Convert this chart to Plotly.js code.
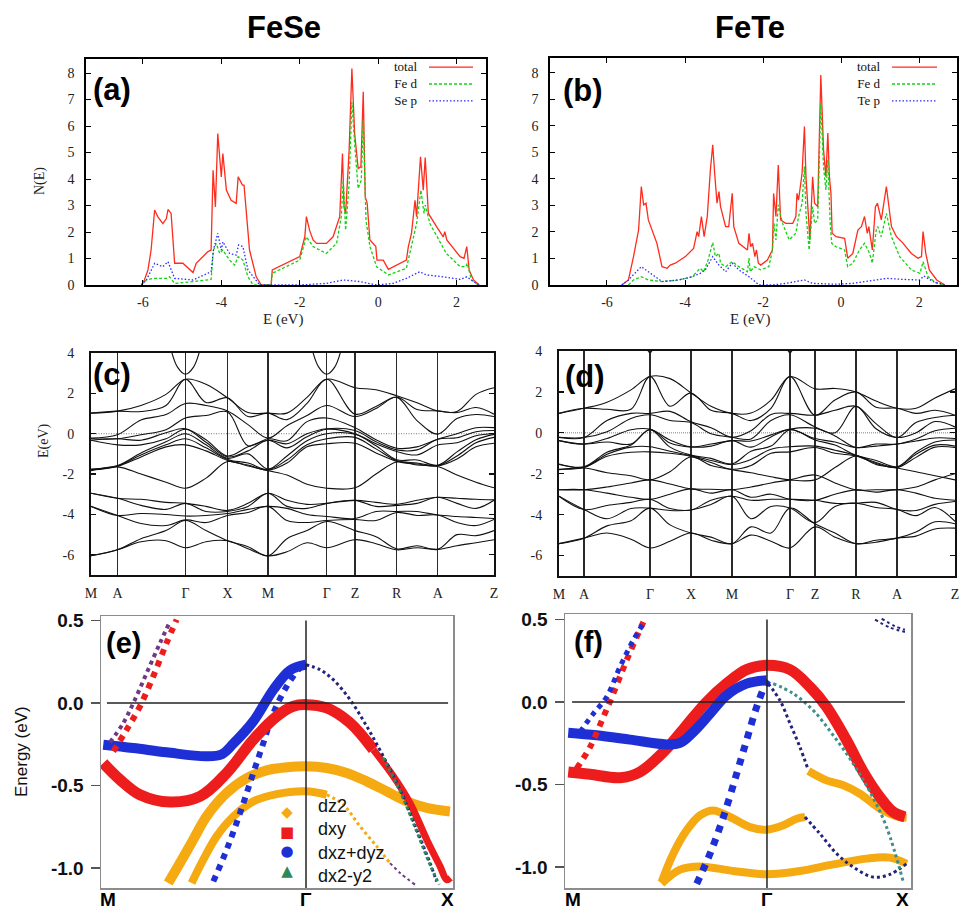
<!DOCTYPE html>
<html><head><meta charset="utf-8">
<script src="https://cdn.plot.ly/plotly-3.0.1.min.js"></script>
<style>html,body{margin:0;padding:0;background:#fff}#chart{width:962px;height:913px}</style>
</head><body><div id="chart"></div>
<script>
// ---------------- DOS (a) FeSe ----------------
const aTotE = [-6.04,-5.96,-5.87,-5.79,-5.70,-5.62,-5.49,-5.40,-5.36,-5.28,-5.19,-4.98,-4.72,-4.64,-4.34,-4.26,-4.21,-4.15,-4.09,-4.00,-3.96,-3.87,-3.75,-3.62,-3.57,-3.46,-3.42,-3.28,-3.11,-2.98,-2.73,-2.70,-2.00,-1.87,-1.83,-1.75,-1.66,-1.57,-1.32,-1.15,-0.98,-0.91,-0.87,-0.83,-0.74,-0.67,-0.60,-0.51,-0.44,-0.38,-0.33,-0.28,-0.21,-0.13,-0.06,-0.03,0.13,0.26,0.72,0.77,0.85,0.94,0.98,1.08,1.15,1.20,1.28,1.49,1.66,1.70,1.75,2.09,2.19,2.26,2.32,2.43,2.58];
const aTotN = [0,0.19,0.57,1.32,2.83,2.58,2.32,2.51,2.85,2.70,0.82,0.82,0.47,0.82,1.26,1.32,4.33,2.95,5.72,4.08,4.96,3.58,3.20,3.08,4.08,3.77,3.77,1.32,0.31,0,0,0.57,1.07,1.82,2.58,2.07,1.70,1.57,1.57,1.82,2.58,4.96,2.95,2.70,5.09,8.17,5.72,4.40,4.46,7.29,3.33,3.08,1.70,1.57,1.45,0.94,0.94,0.59,0.94,1.45,1.95,3.20,2.58,4.84,3.58,4.81,2.70,2.20,1.82,2.01,1.70,1.07,1.01,1.45,0.57,0.19,0];
const aFeE = [-6.04,-5.91,-5.74,-5.40,-5.32,-5.19,-4.72,-4.26,-4.20,-4.13,-4.04,-3.96,-3.79,-3.66,-3.57,-3.45,-3.32,-3.19,-2.73,-2.70,-2.00,-1.83,-1.66,-1.32,-1.06,-0.94,-0.89,-0.83,-0.74,-0.67,-0.60,-0.51,-0.43,-0.38,-0.31,-0.21,-0.04,0.09,0.26,0.72,0.89,0.98,1.09,1.17,1.20,1.32,1.74,2.09,2.24,2.27,2.38,2.55];
const aFeN = [0,0.19,0.25,0.25,0.31,0.06,0.13,0.21,1.32,1.57,1.19,1.32,0.94,0.75,1.07,0.94,0.31,0,0,0.44,0.94,1.82,1.45,1.19,1.57,2.58,3.96,2.07,3.83,6.91,5.34,3.64,3.96,6.22,2.45,1.45,0.69,0.57,0.38,0.63,1.70,2.32,3.58,2.70,3.02,2.32,1.19,0.69,0.69,0.82,0.19,0];
const aSeE = [-6.04,-5.91,-5.70,-5.49,-5.36,-5.19,-4.72,-4.26,-4.20,-4.09,-4.00,-3.96,-3.79,-3.62,-3.56,-3.45,-3.32,-3.11,-3.02,-2.00,-1.32,-0.89,-0.47,-0.04,0.38,0.72,1.06,1.23,1.66,2.09,2.26,2.43,2.58];
const aSeN = [0,0.19,0.82,0.69,0.88,0.25,0.19,0.50,1.32,1.95,1.32,1.63,1.19,1.13,1.51,1.45,0.57,0.19,0,0,0.06,0.19,0.13,0,0.06,0.25,0.50,0.38,0.31,0.21,0.31,0.13,0];

// ---------------- DOS (b) FeTe ----------------
const bTotE = [-5.62,-5.45,-5.32,-5.19,-5.12,-5.06,-5.00,-4.94,-4.72,-4.59,-4.46,-4.38,-4.25,-3.99,-3.78,-3.69,-3.65,-3.58,-3.51,-3.43,-3.35,-3.29,-3.24,-3.18,-3.13,-3.09,-2.96,-2.88,-2.79,-2.75,-2.62,-2.40,-2.36,-2.32,-2.27,-2.21,-2.17,-2.12,-2.06,-1.89,-1.76,-1.73,-1.67,-1.61,-1.55,-1.42,-1.24,-1.16,-1.13,-1.09,-1.00,-0.94,-0.90,-0.80,-0.73,-0.68,-0.60,-0.52,-0.45,-0.39,-0.34,-0.30,-0.26,-0.23,-0.13,0.09,0.17,0.30,0.43,0.52,0.60,0.67,0.71,0.80,0.88,0.93,1.03,1.16,1.29,1.42,1.59,1.80,1.97,2.06,2.10,2.17,2.26,2.45,2.66];
const bTotN = [0,0.19,1.07,2.07,3.71,3.02,3.08,2.45,1.57,0.69,0.63,0.75,0.82,1.07,1.38,2.01,1.82,2.58,1.82,2.58,4.33,5.28,4.21,3.08,3.52,2.95,2.20,2.20,3.45,2.20,1.57,1.32,1.95,1.44,1.57,1.07,1.32,0.82,0.75,0.94,1.32,3.45,2.58,4.52,2.45,2.32,2.32,2.58,3.45,3.20,4.21,5.97,4.08,1.70,4.08,3.08,2.95,7.91,5.09,4.08,5.72,4.08,3.45,1.95,1.82,1.76,1.01,1.19,2.07,2.20,2.58,1.95,2.20,1.32,2.95,3.08,2.45,3.71,2.20,1.82,1.57,1.19,1.01,1.07,2.01,1.19,0.57,0.19,0];
const bFeE = [-5.45,-5.32,-5.12,-4.94,-4.59,-4.16,-3.82,-3.61,-3.52,-3.41,-3.29,-3.22,-3.13,-3.09,-2.96,-2.79,-2.62,-2.40,-2.36,-2.33,-2.23,-2.06,-1.85,-1.76,-1.72,-1.67,-1.61,-1.50,-1.33,-1.16,-1.09,-1.00,-0.94,-0.90,-0.82,-0.73,-0.68,-0.60,-0.52,-0.45,-0.39,-0.34,-0.28,-0.24,-0.13,0.09,0.17,0.30,0.47,0.60,0.73,0.80,0.90,0.94,1.03,1.16,1.29,1.50,1.80,2.02,2.10,2.23,2.45,2.62];
const bFeN = [0,0.19,0.31,0.19,0.13,0.19,0.31,0.63,0.50,0.94,1.60,1.07,1.19,0.82,0.69,0.88,0.69,0.50,1.01,0.50,0.69,0.57,0.69,1.32,2.32,1.70,3.02,2.32,1.70,1.95,2.58,3.08,4.46,2.70,1.32,2.95,2.32,2.45,6.85,4.46,3.58,4.71,2.32,1.57,1.44,1.32,0.69,0.82,1.32,1.57,1.19,0.82,2.07,2.20,1.82,2.70,1.82,1.07,0.57,0.44,0.88,0.31,0.06,0];
const bTeE = [-5.62,-5.45,-5.12,-4.94,-4.59,-4.16,-3.82,-3.61,-3.48,-3.29,-3.13,-2.96,-2.79,-2.62,-2.36,-2.10,-1.76,-1.42,-0.94,-0.73,-0.13,0.30,0.73,1.16,1.59,2.02,2.12,2.36,2.66];
const bTeN = [0,0.19,0.69,0.50,0.13,0.19,0.31,0.44,0.57,1.07,0.75,0.50,0.82,0.57,0.31,0,0,0.06,0.19,0.06,0.03,0.06,0.16,0.25,0.21,0.19,0.34,0.13,0];

// ---------------- Band structure (c) FeSe ----------------
const kSymC = [0,26.5,94.5,136.5,177,235.7,264,305.7,346.7,403];
const kLabels = ['M','A','Γ','X','M','Γ','Z','R','A','Z'];
const kGridC = [0,26.5,50,75,94.5,115,136.5,157,177,196,216,235.7,264,285,305.7,326,346.7,366,385,403];
const feseDcols = [
 [1.02,1.02,-0.22,-0.25,-0.32,-0.32,-1.75,-1.78,-1.80,-1.83],
 [1.12,1.12,-0.05,-0.25,-0.25,-0.55,-1.58,-1.60,-1.62,-1.64],
 [1.40,1.10,0.68,-0.05,-0.32,-0.55,-0.95,-1.05,-1.15,-2.00],
 [1.95,1.40,0.95,0.20,0.05,-0.25,-0.40,-0.55,-0.65,-2.40],
 [2.70,2.70,1.50,0.78,0.25,0.22,0.00,-0.25,-0.55,-2.70],
 [2.45,1.55,1.40,0.90,-0.30,-0.42,-0.55,-0.70,-0.85,-2.20],
 [1.78,1.78,1.13,1.08,-1.10,-1.15,-1.22,-1.28,-1.32,-1.38],
 [1.05,0.85,0.45,-0.60,-0.65,-0.85,-1.00,-1.45,-1.55,-1.60],
 [1.02,1.02,-0.22,-0.25,-0.32,-0.32,-1.75,-1.78,-1.80,-1.83],
 [1.02,0.70,0.40,-0.35,-0.50,-0.70,-1.10,-1.30,-1.45,-2.05],
 [1.80,1.50,0.90,0.60,0.00,-0.15,-0.35,-0.55,-0.65,-2.50],
 [2.70,2.70,1.40,0.78,0.25,0.22,0.00,-0.25,-0.50,-2.70],
 [2.28,0.97,0.85,0.30,0.16,0.00,-0.03,-0.18,-0.47,-2.68],
 [2.18,1.35,1.25,-0.30,-0.40,-0.50,-0.60,-0.75,-0.95,-2.00],
 [1.88,1.82,1.80,-0.72,-0.80,-0.88,-1.29,-1.33,-1.37,-1.40],
 [1.53,1.20,0.65,-0.65,-0.80,-1.05,-1.30,-1.45,-1.50,-1.55],
 [1.13,1.13,-0.02,-0.27,-0.27,-0.56,-1.56,-1.58,-1.60,-1.62],
 [1.10,1.05,0.75,0.00,-0.20,-0.45,-0.90,-1.10,-1.25,-2.05],
 [1.95,1.30,0.95,0.30,0.10,-0.10,-0.30,-0.45,-0.65,-2.40],
 [2.28,0.97,0.85,0.30,0.16,0.00,-0.03,-0.18,-0.47,-2.68]];
const fesePcols = [
 [-2.95,-2.95,-3.60,-3.60,-6.05,-6.05],
 [-3.20,-3.20,-4.05,-4.05,-5.75,-5.75],
 [-3.25,-3.55,-3.95,-4.45,-5.20,-5.35],
 [-3.40,-3.75,-4.00,-4.55,-4.80,-5.30],
 [-3.45,-3.45,-4.08,-4.27,-4.30,-5.65],
 [-3.60,-3.85,-4.05,-4.40,-4.80,-5.35],
 [-3.80,-3.85,-3.95,-4.05,-5.30,-5.30],
 [-3.45,-3.60,-3.75,-3.90,-5.60,-5.70],
 [-2.95,-2.95,-3.60,-3.60,-6.05,-6.05],
 [-3.30,-3.60,-3.70,-4.30,-5.20,-5.85],
 [-3.50,-3.70,-4.00,-4.40,-4.80,-5.40],
 [-3.45,-3.45,-4.10,-4.30,-4.35,-5.65],
 [-3.30,-3.30,-4.20,-4.25,-4.80,-5.25],
 [-3.40,-3.60,-3.85,-4.30,-5.10,-5.45],
 [-3.50,-3.55,-3.85,-3.90,-5.70,-5.75],
 [-3.30,-3.45,-3.85,-4.05,-5.55,-5.65],
 [-3.15,-3.15,-4.03,-4.03,-5.73,-5.73],
 [-3.20,-3.45,-4.10,-4.40,-5.00,-5.55],
 [-3.25,-3.70,-4.15,-4.55,-5.05,-5.40],
 [-3.28,-3.30,-4.20,-4.25,-4.80,-5.25]];
const feseParaDk = [-16,-8,0,8,16];
const feseParaE = [4.45,3.30,2.95,3.30,4.45];

// ---------------- Band structure (d) FeTe ----------------
const kSymD = [0,25,91,132,173,231,256,297,338,396];
const kGridD = [0,25,48,72,91,111,132,152,173,192,212,231,256,276,297,317,338,357,376,396];
const feteDcols = [
 [0.95,0.95,-0.22,-0.22,-0.38,-0.38,-1.52,-1.55,-1.78,-1.80],
 [1.20,1.20,-0.23,-0.23,-0.55,-0.55,-1.66,-1.68,-1.70,-1.72],
 [1.50,1.15,0.60,0.05,-0.28,-0.45,-0.95,-1.05,-1.15,-1.95],
 [2.10,1.15,0.95,0.70,0.15,-0.55,-0.60,-0.70,-0.95,-2.10],
 [2.75,2.75,0.95,0.88,0.18,0.16,0.15,-0.68,-0.93,-2.30],
 [2.65,1.30,1.05,0.60,-0.35,-0.50,-0.70,-0.90,-1.00,-1.90],
 [1.95,1.95,0.54,0.50,-0.68,-0.70,-1.09,-1.12,-1.15,-1.17],
 [1.30,1.10,0.25,-0.05,-0.55,-0.65,-1.25,-1.35,-1.45,-1.60],
 [0.95,0.95,-0.22,-0.22,-0.38,-0.38,-1.52,-1.55,-1.78,-1.80],
 [0.97,0.60,0.10,-0.30,-0.40,-0.70,-0.90,-1.30,-1.60,-1.95],
 [1.60,1.20,0.90,0.60,-0.10,-0.20,-0.65,-0.80,-1.00,-2.15],
 [2.75,2.75,0.95,0.88,0.18,0.16,0.15,-0.68,-0.93,-2.30],
 [2.15,0.86,0.86,0.29,0.22,-0.28,-0.35,-0.65,-0.72,-2.30],
 [2.17,1.60,1.10,0.00,-0.15,-0.45,-0.60,-0.85,-1.00,-1.70],
 [2.00,2.00,1.30,1.30,-0.72,-0.72,-1.10,-1.10,-1.13,-1.13],
 [1.55,1.25,0.45,0.20,-0.55,-0.65,-1.35,-1.45,-1.50,-1.55],
 [1.20,1.20,-0.23,-0.23,-0.55,-0.55,-1.66,-1.68,-1.70,-1.72],
 [1.20,0.95,0.50,0.00,-0.30,-0.40,-0.95,-1.05,-1.20,-1.90],
 [1.70,1.10,0.75,0.55,0.10,-0.25,-0.45,-0.60,-0.70,-2.10],
 [2.15,0.86,0.86,0.29,0.22,-0.28,-0.35,-0.65,-0.72,-2.30]];
const fetePcols = [
 [-2.78,-2.78,-3.10,-3.10,-5.42,-5.42],
 [-2.78,-2.78,-3.75,-3.75,-5.15,-5.15],
 [-2.65,-2.95,-3.55,-4.20,-4.55,-4.90],
 [-2.45,-3.15,-3.40,-3.70,-4.30,-5.20],
 [-2.30,-3.25,-3.25,-3.68,-3.68,-5.63],
 [-2.50,-3.00,-3.70,-3.80,-4.50,-5.30],
 [-2.74,-2.74,-3.77,-3.77,-4.90,-4.90],
 [-2.76,-2.95,-3.30,-3.50,-5.10,-5.25],
 [-2.78,-2.78,-3.10,-3.10,-5.42,-5.42],
 [-2.65,-3.15,-3.30,-4.20,-4.60,-5.00],
 [-2.45,-3.00,-3.25,-3.60,-4.90,-5.30],
 [-2.30,-3.25,-3.25,-3.68,-3.68,-5.63],
 [-2.06,-3.30,-3.30,-4.39,-4.45,-4.60],
 [-2.45,-3.00,-3.45,-3.60,-4.90,-5.10],
 [-2.79,-2.79,-3.44,-3.44,-5.42,-5.42],
 [-2.78,-2.90,-3.40,-3.65,-5.25,-5.35],
 [-2.78,-2.78,-3.75,-3.75,-5.15,-5.15],
 [-2.65,-2.95,-3.80,-4.05,-4.85,-5.05],
 [-2.30,-3.20,-3.50,-3.65,-4.35,-4.70],
 [-2.00,-3.30,-3.36,-4.33,-4.45,-4.66]];
const feteParaDk = [-5,0,5];
const feteParaE = [4.30,3.92,4.30];

// ---------------- Fat bands (e) FeSe ----------------
const eBlueThickK = [0.011,0.158,0.320,0.515,0.590,0.646,0.743,0.841,0.922,1.0];
const eBlueThickE = [-0.253,-0.273,-0.299,-0.323,-0.310,-0.246,-0.111,0.081,0.198,0.232];
const eRedThickK = [0.011,0.093,0.190,0.337,0.483,0.613,0.743,0.857,0.938,1.0,1.101,1.215,1.328];
const eRedThickE = [-0.364,-0.465,-0.556,-0.600,-0.566,-0.424,-0.222,-0.081,-0.020,-0.010,-0.030,-0.121,-0.283];
const eRedTailK = [1.328,1.426,1.507,1.589,1.654,1.686,1.705];
const eRedTailE = [-0.283,-0.444,-0.606,-0.828,-0.990,-1.071,-1.060];
const eRedSteepK = [0.060,0.125,0.190,0.255,0.320,0.369];
const eRedSteepE = [-0.293,-0.162,-0.020,0.162,0.364,0.505];
const ePurpleSteepK = [0.044,0.109,0.158,0.223,0.288,0.337];
const ePurpleSteepE = [-0.238,-0.121,0.0,0.182,0.364,0.495];
const eBlueSteepK = [0.548,0.613,0.678,0.743,0.792,0.841,0.906,0.971,1.0];
const eBlueSteepE = [-1.081,-0.889,-0.667,-0.424,-0.242,-0.061,0.101,0.212,0.232];
const eOrangeAK = [0.328,0.385,0.450,0.515,0.613,0.711,0.808,0.906,1.0,1.101,1.199,1.296,1.393,1.491,1.589,1.702];
const eOrangeAE = [-1.091,-0.970,-0.828,-0.687,-0.545,-0.455,-0.408,-0.390,-0.384,-0.394,-0.424,-0.475,-0.535,-0.596,-0.636,-0.657];
const eOrangeBK = [0.442,0.499,0.564,0.646,0.743,0.857,1.0,1.101];
const eOrangeBE = [-1.091,-0.949,-0.808,-0.687,-0.596,-0.552,-0.535,-0.556];
const eOrangeBTailK = [1.101,1.182,1.263,1.345,1.410];
const eOrangeBTailE = [-0.556,-0.616,-0.747,-0.869,-0.970];
const ePurpleTailK = [1.410,1.459,1.532];
const ePurpleTailE = [-0.970,-1.030,-1.101];
const eNavyK = [1.0,1.068,1.133,1.215,1.296,1.377,1.459,1.540,1.605,1.637];
const eNavyE = [0.232,0.202,0.141,0.020,-0.141,-0.323,-0.525,-0.768,-0.970,-1.081];
const eGreenK = [1.377,1.459,1.540,1.605,1.650];
const eGreenE = [-0.333,-0.535,-0.778,-0.980,-1.101];

// ---------------- Fat bands (f) FeTe ----------------
const fRedThickK = [0.016,0.124,0.272,0.371,0.503,0.602,0.701,0.800,0.899,0.998,1.114,1.213,1.295,1.394,1.477,1.559,1.625,1.683];
const fRedThickE = [-0.424,-0.438,-0.459,-0.424,-0.283,-0.141,0.0,0.111,0.196,0.222,0.196,0.091,-0.030,-0.232,-0.424,-0.576,-0.667,-0.697];
const fBlueThickK = [0.016,0.157,0.322,0.503,0.569,0.635,0.718,0.800,0.899,0.998];
const fBlueThickE = [-0.186,-0.202,-0.228,-0.257,-0.248,-0.182,-0.071,0.040,0.111,0.131];
const fRedSteepK = [0.057,0.124,0.190,0.239,0.305,0.388];
const fRedSteepE = [-0.404,-0.273,-0.091,0.051,0.253,0.485];
const fBlueSteepMK = [0.074,0.140,0.206,0.272,0.338,0.396];
const fBlueSteepME = [-0.182,-0.071,0.030,0.212,0.374,0.491];
const fBlueSteepGK = [0.652,0.718,0.784,0.850,0.899,0.949,0.990,1.006];
const fBlueSteepGE = [-1.101,-0.919,-0.697,-0.434,-0.232,-0.030,0.101,0.131];
const fOrangeWaveK = [0.478,0.536,0.602,0.668,0.734,0.817,0.916,0.998,1.081,1.147,1.188];
const fOrangeWaveE = [-1.091,-0.919,-0.778,-0.687,-0.657,-0.697,-0.758,-0.774,-0.747,-0.707,-0.697];
const fOrangeLowK = [0.478,0.569,0.668,0.833,0.998,1.163,1.328,1.493,1.609,1.691];
const fOrangeLowE = [-1.101,-1.016,-0.996,-1.024,-1.044,-1.024,-0.984,-0.949,-0.943,-0.980];
const fOrangeRightK = [1.205,1.295,1.378,1.460,1.559,1.642,1.691];
const fOrangeRightE = [-0.418,-0.475,-0.505,-0.556,-0.646,-0.693,-0.701];
const fNavyDropK = [1.188,1.262,1.345,1.427,1.526,1.609,1.691];
const fNavyDropE = [-0.697,-0.798,-0.919,-1.0,-1.061,-1.044,-0.980];
const fNavyGK = [1.006,1.064,1.114,1.163,1.205];
const fNavyGE = [0.111,0.010,-0.131,-0.273,-0.414];
const fTealK = [1.031,1.130,1.229,1.328,1.427,1.510,1.592,1.675];
const fTealE = [0.111,0.051,-0.051,-0.202,-0.374,-0.545,-0.758,-1.091];
const fArc1K = [1.535,1.609,1.683];
const fArc1E = [0.499,0.451,0.424];
const fArc2K = [1.568,1.634,1.683];
const fArc2E = [0.505,0.459,0.438];

const fatTickLabels = ['M','Γ','X'];
const legendNames = ['dz2','dxy','dxz+dyz','dx2-y2'];
const dosNamesA = ['total','Fe d','Se p'];
const dosNamesB = ['total','Fe d','Te p'];

// ---------------- helpers ----------------
const W = 962, H = 913;
const px = x => x / W;
const py = y => 1 - y / H;
const SERIF = 'Liberation Serif, Times New Roman, serif';
const SANS = 'Liberation Sans, Arial, sans-serif';
const C_ORANGE = '#f5aa12', C_RED = '#ee1d1d', C_BLUE = '#1f2fd6', C_NAVY = '#23237e', C_PURPLE = '#6d3a86', C_GREEN = '#2a8a5a', C_TEAL = '#3c8f8a';
const DOS_TOT = '#ff2b1c', DOS_FE = '#12d312', DOS_P = '#2a2aff';

function transpose(cols) {
  const rows = [];
  for (let i = 0; i < cols[0].length; i++) rows.push(cols.map(c => c[i]));
  return rows;
}

const traces = [];
function dosTrace(x, y, color, dash, xa, ya) {
  traces.push({x: x, y: y, xaxis: xa, yaxis: ya, mode: 'lines', showlegend: false,
    line: {color: color, width: 1.3, dash: dash}, hoverinfo: 'skip'});
}
dosTrace(aTotE, aTotN, DOS_TOT, 'solid', 'x', 'y');
dosTrace(aFeE, aFeN, DOS_FE, '3px,2px', 'x', 'y');
dosTrace(aSeE, aSeN, DOS_P, '1.5px,2px', 'x', 'y');
dosTrace(bTotE, bTotN, DOS_TOT, 'solid', 'x2', 'y2');
dosTrace(bFeE, bFeN, DOS_FE, '3px,2px', 'x2', 'y2');
dosTrace(bTeE, bTeN, DOS_P, '1.5px,2px', 'x2', 'y2');

function bandTraces(kGrid, dcols, pcols, xa, ya) {
  transpose(dcols).concat(transpose(pcols)).forEach(row => {
    traces.push({x: kGrid, y: row, xaxis: xa, yaxis: ya, mode: 'lines', showlegend: false,
      line: {color: '#111', width: 1.1, shape: 'spline', smoothing: 1.0}, hoverinfo: 'skip'});
  });
}
bandTraces(kGridC, feseDcols, fesePcols, 'x3', 'y3');
bandTraces(kGridD, feteDcols, fetePcols, 'x4', 'y4');
[kSymC[2], kSymC[5]].forEach(g => traces.push({x: feseParaDk.map(d => g + d), y: feseParaE, xaxis: 'x3', yaxis: 'y3',
  mode: 'lines', showlegend: false, line: {color: '#111', width: 1.1, shape: 'spline'}, hoverinfo: 'skip'}));
[kSymD[2], kSymD[5]].forEach(g => traces.push({x: feteParaDk.map(d => g + d), y: feteParaE, xaxis: 'x4', yaxis: 'y4',
  mode: 'lines', showlegend: false, line: {color: '#111', width: 1.1, shape: 'spline'}, hoverinfo: 'skip'}));

function fat(k, e, color, width, dash, xa, ya) {
  traces.push({x: k, y: e, xaxis: xa, yaxis: ya, mode: 'lines', showlegend: false,
    line: {color: color, width: width, dash: dash || 'solid', shape: 'spline', smoothing: 1.0}, hoverinfo: 'skip'});
}
// (e)
fat(eOrangeAK, eOrangeAE, C_ORANGE, 10, null, 'x5', 'y5');
fat(eOrangeBK, eOrangeBE, C_ORANGE, 8, null, 'x5', 'y5');
fat(eOrangeBTailK, eOrangeBTailE, C_ORANGE, 3, 'dot', 'x5', 'y5');
fat(ePurpleTailK, ePurpleTailE, C_PURPLE, 2, 'dot', 'x5', 'y5');
fat(eBlueSteepK, eBlueSteepE, C_BLUE, 6, 'dot', 'x5', 'y5');
fat(eBlueThickK, eBlueThickE, C_BLUE, 10, null, 'x5', 'y5');
fat(eRedThickK, eRedThickE, C_RED, 11, null, 'x5', 'y5');
fat(eRedTailK, eRedTailE, C_RED, 7, null, 'x5', 'y5');
fat(eRedSteepK, eRedSteepE, C_RED, 6, 'dot', 'x5', 'y5');
fat(ePurpleSteepK, ePurpleSteepE, C_PURPLE, 4, 'dot', 'x5', 'y5');
fat(eNavyK, eNavyE, C_NAVY, 3, 'dot', 'x5', 'y5');
fat(eGreenK, eGreenE, C_GREEN, 3, 'dot', 'x5', 'y5');
// (f)
fat(fOrangeWaveK, fOrangeWaveE, C_ORANGE, 8, null, 'x6', 'y6');
fat(fOrangeLowK, fOrangeLowE, C_ORANGE, 8, null, 'x6', 'y6');
fat(fOrangeRightK, fOrangeRightE, C_ORANGE, 8, null, 'x6', 'y6');
fat(fNavyDropK, fNavyDropE, C_NAVY, 3, 'dot', 'x6', 'y6');
fat(fBlueSteepGK, fBlueSteepGE, C_BLUE, 7, 'dot', 'x6', 'y6');
fat(fRedThickK, fRedThickE, C_RED, 11, null, 'x6', 'y6');
fat(fBlueThickK, fBlueThickE, C_BLUE, 10, null, 'x6', 'y6');
fat(fRedSteepK, fRedSteepE, C_RED, 6, 'dot', 'x6', 'y6');
fat(fBlueSteepMK, fBlueSteepME, C_BLUE, 5, 'dot', 'x6', 'y6');
fat(fNavyGK, fNavyGE, C_NAVY, 3, 'dot', 'x6', 'y6');
fat(fTealK, fTealE, C_TEAL, 3, 'dot', 'x6', 'y6');
fat(fArc1K, fArc1E, C_NAVY, 2, 'dot', 'x6', 'y6');
fat(fArc2K, fArc2E, C_NAVY, 2, 'dot', 'x6', 'y6');

// ---------------- axes ----------------
function dosX(dom, range) {
  return {domain: dom, range: range, tickvals: [-6,-4,-2,0,2], ticktext: ['-6','-4','-2','0','2'],
    ticks: 'inside', ticklen: 5, tickwidth: 1, tickcolor: '#000', showline: true, mirror: 'ticks', linecolor: '#000', linewidth: 1.6,
    showgrid: false, zeroline: false, tickfont: {family: SERIF, size: 14, color: '#222'}, ticklabelstandoff: 4};
}
function dosY(dom, range) {
  return {domain: dom, range: range, tickvals: [0,1,2,3,4,5,6,7,8], ticktext: ['0','1','2','3','4','5','6','7','8'],
    ticks: 'inside', ticklen: 5, tickwidth: 1, tickcolor: '#000', showline: true, mirror: 'ticks', linecolor: '#000', linewidth: 1.6,
    showgrid: false, zeroline: false, tickfont: {family: SERIF, size: 14, color: '#222'}, ticklabelstandoff: 7};
}
function bandX(dom, range, ksym) {
  return {domain: dom, range: range, tickvals: ksym, ticktext: kLabels, ticks: '', showgrid: true, gridcolor: '#2a2a2a', gridwidth: 1.3,
    showline: true, mirror: true, linecolor: '#111', linewidth: 2, zeroline: false,
    tickfont: {family: SERIF, size: 14, color: '#222'}, ticklabelstandoff: 4};
}
function bandY(dom) {
  return {domain: dom, range: [-7, 4], tickvals: [-6,-4,-2,0,2,4], ticktext: ['-6','-4','-2','0','2','4'],
    ticks: 'inside', ticklen: 5, tickwidth: 1.2, tickcolor: '#111', showline: true, mirror: 'ticks', linecolor: '#111', linewidth: 2,
    showgrid: false, zeroline: false, tickfont: {family: SERIF, size: 14, color: '#222'}, ticklabelstandoff: 12};
}
function fatX(dom, range) {
  return {domain: dom, range: range, showticklabels: false, ticks: '',
    showline: true, mirror: true, linecolor: '#8c8c8c', linewidth: 1.5, showgrid: false, zeroline: false};
}
function fatY(dom, range) {
  return {domain: dom, range: range, tickvals: [0.5,0,-0.5,-1], ticktext: ['<b>0.5</b>','<b>0.0</b>','<b>-0.5</b>','<b>-1.0</b>'],
    ticks: 'outside', ticklen: 9, tickwidth: 1.5, tickcolor: '#555', showline: true, mirror: true, linecolor: '#8c8c8c', linewidth: 1.5,
    showgrid: false, zeroline: false, tickfont: {family: SANS, size: 19, color: '#111'}, ticklabelstandoff: 3};
}

const layout = {
  width: W, height: H, margin: {l: 0, r: 0, t: 0, b: 0}, showlegend: false,
  paper_bgcolor: '#fff', plot_bgcolor: 'rgba(0,0,0,0)', hovermode: false,
  xaxis: Object.assign(dosX([px(86), px(486)], [-7.45, 2.75]), {anchor: 'y'}),
  yaxis: Object.assign(dosY([py(285), py(59)], [0, 8.53]), {anchor: 'x'}),
  xaxis2: Object.assign(dosX([px(550), px(957)], [-7.46, 2.97]), {anchor: 'y2'}),
  yaxis2: Object.assign(dosY([py(285), py(58)], [0, 8.55]), {anchor: 'x2'}),
  xaxis3: Object.assign(bandX([px(91), px(494)], [0, 403], kSymC), {anchor: 'y3'}),
  yaxis3: Object.assign(bandY([py(575), py(353)]), {anchor: 'x3'}),
  xaxis4: Object.assign(bandX([px(559), px(955)], [0, 396], kSymD), {anchor: 'y4'}),
  yaxis4: Object.assign(bandY([py(576), py(351)]), {anchor: 'x4'}),
  xaxis5: Object.assign(fatX([px(101), px(453)], [0, 1.717]), {anchor: 'y5'}),
  yaxis5: Object.assign(fatY([py(888), py(616)], [-1.121, 0.527]), {anchor: 'x5'}),
  xaxis6: Object.assign(fatX([px(565), px(911)], [0, 1.713]), {anchor: 'y6'}),
  yaxis6: Object.assign(fatY([py(888), py(614)], [-1.127, 0.533]), {anchor: 'x6'}),
  shapes: [], annotations: []
};

// Fermi level and Gamma lines
layout.shapes.push({type: 'line', xref: 'x3', yref: 'y3', x0: 0, x1: 403, y0: 0, y1: 0, line: {color: '#777', width: 1, dash: '1px,1.5px'}, layer: 'below'});
layout.shapes.push({type: 'line', xref: 'x4', yref: 'y4', x0: 0, x1: 396, y0: 0, y1: 0, line: {color: '#aaa', width: 1.6, dash: '1px,1px'}, layer: 'below'});
layout.shapes.push({type: 'line', xref: 'x5', yref: 'y5', x0: 0.029, x1: 1.693, y0: 0, y1: 0, line: {color: '#222', width: 1.5}});
layout.shapes.push({type: 'line', xref: 'x5', yref: 'y5', x0: 1, x1: 1, y0: 0.5, y1: -1.121, line: {color: '#222', width: 1.5}});
layout.shapes.push({type: 'line', xref: 'x6', yref: 'y6', x0: 0.035, x1: 1.683, y0: 0, y1: 0, line: {color: '#222', width: 1.5}});
layout.shapes.push({type: 'line', xref: 'x6', yref: 'y6', x0: 1, x1: 1, y0: 0.5, y1: -1.127, line: {color: '#222', width: 1.5}});

function ann(text, x, y, font, extra) {
  layout.annotations.push(Object.assign({text: text, xref: 'paper', yref: 'paper', x: px(x), y: py(y), xanchor: 'center', yanchor: 'middle',
    showarrow: false, font: font}, extra || {}));
}

// DOS legends: text block (right aligned) with line samples to its right
const DOS_LEG_FONT = 13, DOS_LEG_STEP = 13 * 1.3;
function dosLegend(names, textRight, x0, x1, yc) {
  const cols = [DOS_TOT, DOS_FE, DOS_P], dashes = ['solid', '3px,2px', '1.5px,2px'];
  ann(names.join('<br>'), textRight, yc, {family: SERIF, size: DOS_LEG_FONT, color: '#111'}, {xanchor: 'right', align: 'right'});
  names.forEach((n, i) => {
    const yy = yc + (i - 1) * DOS_LEG_STEP;
    layout.shapes.push({type: 'line', xref: 'paper', yref: 'paper', x0: px(x0), x1: px(x1), y0: py(yy), y1: py(yy),
      line: {color: cols[i], width: 1.3, dash: dashes[i]}});
  });
}
dosLegend(dosNamesA, 420, 429, 473, 84);
dosLegend(dosNamesB, 883, 892, 937, 84);

const bold = sz => ({family: SANS, size: sz, color: '#000'});
ann('<b>FeSe</b>', 284, 28, bold(31));
ann('<b>FeTe</b>', 750, 28, bold(31));
ann('<b>(a)</b>', 112, 89, bold(31));
ann('<b>(b)</b>', 583, 90, bold(31));
ann('<b>(c)</b>', 112, 374, bold(31));
ann('<b>(d)</b>', 585, 376, bold(31));
ann('<b>(e)</b>', 123, 643, bold(29));
ann('<b>(f)</b>', 588, 642, bold(29));
ann('N(E)', 40, 181, {family: SERIF, size: 14, color: '#222'}, {textangle: -90});
ann('E (eV)', 283, 320, {family: SERIF, size: 15, color: '#222'});
ann('E (eV)', 750, 320, {family: SERIF, size: 15, color: '#222'});
ann('E(eV)', 44, 441, {family: SERIF, size: 14, color: '#222'}, {textangle: -90});
ann('Energy (eV)', 21, 752, {family: SANS, size: 17, color: '#111'}, {textangle: -90});

// k-point labels under (e) and (f)
const fatLabelXe = [108, 306, 447], fatLabelXf = [573, 767, 902];
fatTickLabels.forEach((t, i) => {
  ann('<b>' + t + '</b>', fatLabelXe[i], 899, bold(19));
  ann('<b>' + t + '</b>', fatLabelXf[i], 899, bold(19));
});

// fat-band legend (e) as a single block
const legSyms = ['◆', '■', '●', '▲'];
const legCols = [C_ORANGE, C_RED, C_BLUE, C_GREEN];
ann(legSyms.map((s, i) => '<span style="color:' + legCols[i] + '">' + s + '</span>').join('<br>'), 287, 841,
  {family: 'DejaVu Sans', size: 15, color: '#000'});
ann(legendNames.join('<br>'), 316, 841, {family: SANS, size: 18, color: '#111'}, {xanchor: 'left', align: 'left'});

Plotly.newPlot('chart', traces, layout, {staticPlot: true, displayModeBar: false});
</script>
</body></html>
